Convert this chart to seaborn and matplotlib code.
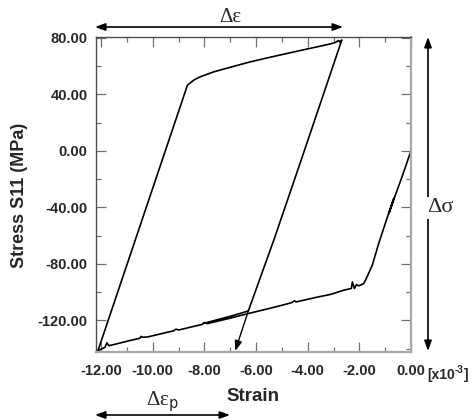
import matplotlib
matplotlib.use("Agg")
import matplotlib.pyplot as plt
from matplotlib.ticker import MultipleLocator, FormatStrFormatter
import numpy as np
import pandas as pd
import seaborn as sns

# Hysteresis loop (strain in 1e-3, stress in MPa), in loading order
strain = [0.0, -0.35, -0.58, -0.86, -0.66, -0.88, -1.25, -1.5, -1.76, -1.83,
          -2.02, -2.11, -2.19, -2.27, -2.31, -2.6, -3.11,
          -3.6, -4.2, -4.45, -4.52, -4.6, -5.0, -5.5, -6.0, -6.4, -7.0, -7.5,
          -7.9, -8.0, -8.1, -8.5, -9.0, -9.1, -9.2, -9.6, -10.2, -10.4, -10.45,
          -10.5, -10.9, -11.4, -11.7, -11.78, -11.85, -12.0, -12.12,
          -11.4, -10.5, -9.5, -8.95, -8.66,
          -8.4, -8.17, -7.65, -6.9, -6.23, -5.6, -4.94, -4.3, -3.65, -3.2,
          -2.95, -2.8, -2.75, -2.68,
          -3.4, -4.21, -5.3, -6.3, -6.9, -7.52, -8.05]
stress = [0.0, -18.5, -30.0, -44.5, -33.5, -45.0, -65.5, -81.0, -91.4, -93.9,
          -95.6, -94.6, -97.4, -92.8, -97.4, -98.6, -101.6,
          -103.4, -105.9, -106.9, -106.2, -107.3, -109.3, -111.6, -113.8, -115.6,
          -118.4, -120.6, -122.3, -121.5, -122.9, -124.6, -126.8, -126.2, -127.4,
          -129.1, -131.7, -131.9, -131.3, -132.6, -134.3, -136.6, -137.9, -135.8,
          -139.0, -140.4, -141.2,
          -102.2, -53.4, 0.8, 30.6, 46.4,
          50.2, 52.3, 55.8, 59.6, 62.9, 65.6, 68.3, 70.9, 73.5, 75.3,
          76.5, 78.0, 76.8, 78.4,
          39.5, -4.2, -62.5, -113.3, -116.6, -119.6, -122.2]

# Plastic strain indicator: end of unloading line projected to the axis
unload_from = (-6.3, -113.3)
unload_to = (-6.81, -141.6)

x_ticks = [-12, -10, -8, -6, -4, -2, 0]
y_ticks = [-120, -80, -40, 0, 40, 80]

sns.set_style("ticks")
plt.rcParams["font.family"] = ["Liberation Sans", "DejaVu Sans"]
plt.rcParams["axes.unicode_minus"] = False

W, H = 474, 420
fig = plt.figure(figsize=(W / 100, H / 100), dpi=100)
ax = fig.add_axes([96 / W, 1 - 351.5 / H, (411 - 96) / W, (351.5 - 37.3) / H])

df = pd.DataFrame({"Strain": strain, "Stress": stress})
sns.lineplot(data=df, x="Strain", y="Stress", sort=False, estimator=None,
             color="black", lw=1.2, ax=ax)

ax.annotate("", xy=unload_to, xytext=unload_from, annotation_clip=False,
            arrowprops=dict(arrowstyle="-|>,head_length=0.6,head_width=0.22",
                            color="black", lw=1.0, shrinkA=0, shrinkB=0,
                            mutation_scale=10))

ax.set_xlim(-12.2, 0)
ax.set_ylim(-142, 80.3)
ax.set_xticks(x_ticks)
ax.set_yticks(y_ticks)
ax.xaxis.set_minor_locator(MultipleLocator(1))
ax.yaxis.set_minor_locator(MultipleLocator(20))
ax.xaxis.set_major_formatter(FormatStrFormatter("%.2f"))
ax.yaxis.set_major_formatter(FormatStrFormatter("%.2f"))
ax.set_xlabel("")
ax.set_ylabel("")

tick_col = "#707070"
ax.tick_params(which="both", direction="in", top=True, right=True,
               color=tick_col, width=0.9)
ax.tick_params(which="major", length=7.5)
ax.tick_params(which="minor", length=3.8)
ax.tick_params(axis="x", which="major", pad=9, labelsize=10.5)
ax.tick_params(axis="y", which="major", pad=6, labelsize=10.5)
for lab in ax.get_xticklabels() + ax.get_yticklabels():
    lab.set_fontweight("bold")

for side in ("left", "top"):
    ax.spines[side].set_color("#4d4d4d")
    ax.spines[side].set_linewidth(1.0)
for side in ("right", "bottom"):
    ax.spines[side].set_color("#a8a8a8")
    ax.spines[side].set_linewidth(1.6)


def fx(px):
    return px / W


def fy(py):
    return 1 - py / H


fig.text(fx(20), fy(195), "Stress S11 (MPa)", rotation=90, ha="center",
         va="center", fontsize=13, fontweight="bold")
fig.text(fx(253), fy(401), "Strain", ha="center", va="baseline",
         fontsize=13.5, fontweight="bold")

# axis multiplier, written in pieces so the superscript sits tight
fig.text(fx(427), fy(379), "[x10", ha="left", va="baseline",
         fontsize=10, fontweight="bold")
fig.text(fx(455), fy(373), "-3", ha="left", va="baseline",
         fontsize=7, fontweight="bold")
fig.text(fx(464), fy(379), "]", ha="left", va="baseline",
         fontsize=10, fontweight="bold")

serif = ["Liberation Serif", "DejaVu Serif"]
arrow_kw = dict(arrowstyle="<|-|>,head_length=0.6,head_width=0.22",
                color="black", lw=1.2, shrinkA=0, shrinkB=0, mutation_scale=10)

# strain range
fig.add_artist(matplotlib.patches.FancyArrowPatch(
    (fx(95), fy(27)), (fx(343), fy(27)), transform=fig.transFigure, **arrow_kw))
fig.text(fx(230), fy(22), "Δε", ha="center", va="baseline", fontsize=15,
         family=serif)

# stress range
fig.add_artist(matplotlib.patches.FancyArrowPatch(
    (fx(428), fy(351)), (fx(428), fy(37)), transform=fig.transFigure, **arrow_kw))
fig.text(fx(427), fy(208), "Δσ", ha="left", va="center", fontsize=16,
         family=serif, bbox=dict(facecolor="white", edgecolor="none", pad=1))

# plastic strain range
fig.add_artist(matplotlib.patches.FancyArrowPatch(
    (fx(95), fy(415)), (fx(230), fy(415)), transform=fig.transFigure, **arrow_kw))
fig.text(fx(162), fy(405), r"Δε$_{\mathrm{p}}$", ha="center", va="baseline",
         fontsize=15, family=serif)

fig.savefig("out.png", dpi=100)
